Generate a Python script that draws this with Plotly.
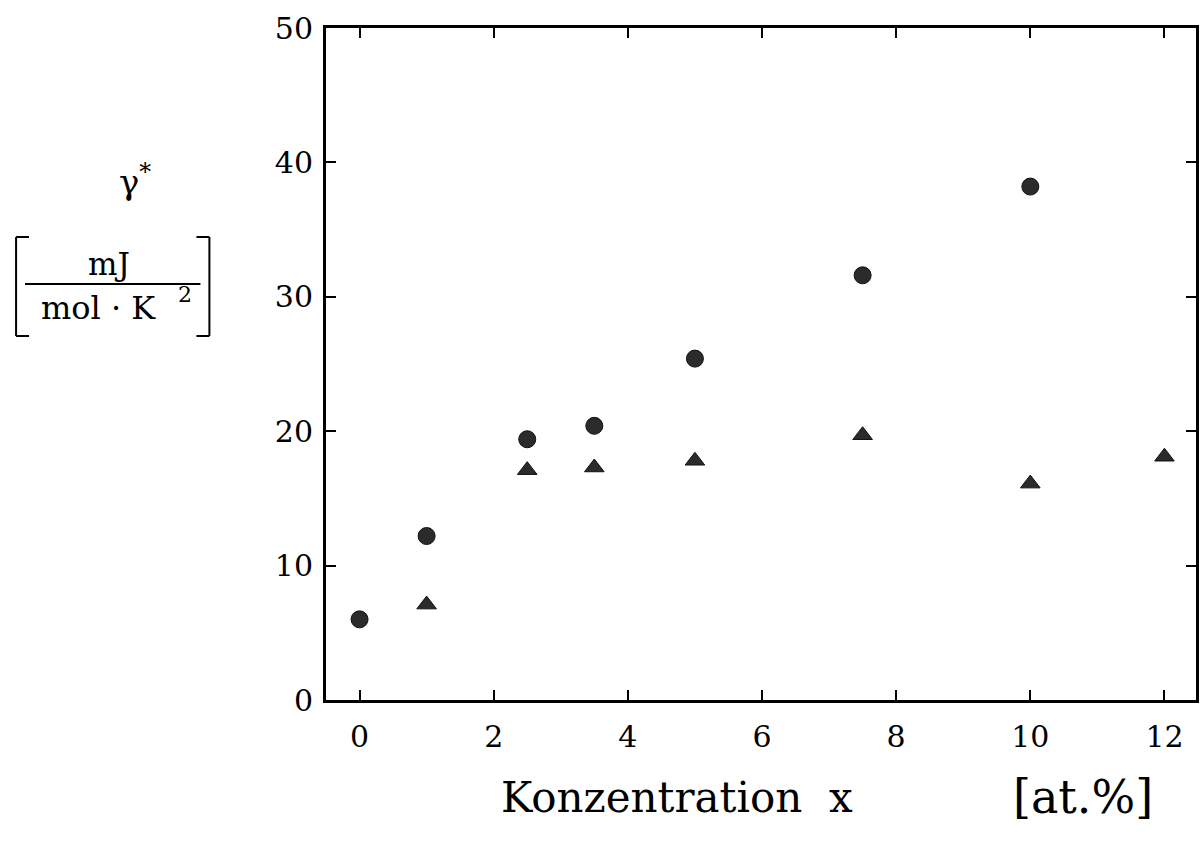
import plotly.graph_objects as go

# Data
x_circle = [0, 1, 2.5, 3.5, 5, 7.5, 10]
y_circle = [6.0, 12.2, 19.4, 20.4, 25.4, 31.6, 38.2]
x_tri = [1, 2.5, 3.5, 5, 7.5, 10, 12]
y_tri = [7.1, 17.1, 17.3, 17.8, 19.7, 16.1, 18.1]
x_ticks = [0, 2, 4, 6, 8, 10, 12]
y_ticks = [0, 10, 20, 30, 40, 50]

FONT = "DejaVu Serif"
COL = "#2b2b2b"

fig = go.Figure()
fig.add_trace(go.Scatter(x=x_circle, y=y_circle, mode="markers",
                         marker=dict(symbol="circle", size=17, color=COL,
                                     line=dict(color="#111", width=1))))
fig.add_trace(go.Scatter(x=x_tri, y=y_tri, mode="markers",
                         marker=dict(symbol="triangle-up", size=17, color=COL,
                                     line=dict(color="#111", width=1))))

L, R, T, B = 326, 1199, 28, 700
W, H = 1201, 841

def px(x):
    return (x - L) / (R - L)

def py(y):
    return (B - y) / (B - T)

fig.update_layout(
    width=W, height=H,
    margin=dict(l=L, r=W - R, t=T, b=H - B, pad=0),
    paper_bgcolor="white", plot_bgcolor="white",
    showlegend=False,
    font=dict(family=FONT, color="black"),
    xaxis=dict(range=[-0.5, 12.47], tickvals=x_ticks, ticks="inside", ticklen=10,
               tickwidth=2, tickcolor="black", showline=True, linecolor="black",
               linewidth=3, mirror="ticks", showgrid=False, zeroline=False,
               tickfont=dict(size=30, family=FONT), ticklabelstandoff=8),
    yaxis=dict(range=[0, 50], tickvals=y_ticks, ticks="inside", ticklen=10,
               tickwidth=2, tickcolor="black", showline=True, linecolor="black",
               linewidth=3, mirror="ticks", showgrid=False, zeroline=False,
               tickfont=dict(size=30, family=FONT), ticklabelstandoff=4),
)

ann = []
ann.append(dict(text="Konzentration  x", x=px(678), y=py(797), xref="paper", yref="paper",
                showarrow=False, font=dict(size=42, family=FONT), xanchor="center", yanchor="middle"))
ann.append(dict(text="[at.%]", x=px(1086), y=py(797), xref="paper", yref="paper",
                showarrow=False, font=dict(size=46, family=FONT), xanchor="center", yanchor="middle"))
ann.append(dict(text="γ<sup>*</sup>", x=px(134), y=py(180), xref="paper", yref="paper",
                showarrow=False, font=dict(size=34, family=FONT), xanchor="center", yanchor="middle"))
ann.append(dict(text="mJ", x=px(108), y=py(264), xref="paper", yref="paper",
                showarrow=False, font=dict(size=31, family=FONT), xanchor="center", yanchor="middle"))
ann.append(dict(text="mol · K", x=px(98), y=py(308), xref="paper", yref="paper",
                showarrow=False, font=dict(size=32, family=FONT), xanchor="center", yanchor="middle"))
ann.append(dict(text="2", x=px(185), y=py(294), xref="paper", yref="paper",
                showarrow=False, font=dict(size=22, family=FONT), xanchor="center", yanchor="middle"))
fig.update_layout(annotations=ann)

line = dict(color="black", width=2)
shapes = [
    # fraction line
    dict(type="line", xref="paper", yref="paper", x0=px(24), x1=px(200), y0=py(284), y1=py(284), line=line),
    # left bracket
    dict(type="line", xref="paper", yref="paper", x0=px(15), x1=px(15), y0=py(237), y1=py(336), line=line),
    dict(type="line", xref="paper", yref="paper", x0=px(15), x1=px(28), y0=py(237), y1=py(237), line=line),
    dict(type="line", xref="paper", yref="paper", x0=px(15), x1=px(28), y0=py(336), y1=py(336), line=line),
    # right bracket
    dict(type="line", xref="paper", yref="paper", x0=px(209), x1=px(209), y0=py(237), y1=py(336), line=line),
    dict(type="line", xref="paper", yref="paper", x0=px(196), x1=px(209), y0=py(237), y1=py(237), line=line),
    dict(type="line", xref="paper", yref="paper", x0=px(196), x1=px(209), y0=py(336), y1=py(336), line=line),
]
fig.update_layout(shapes=shapes)

fig.write_html("out.html")
